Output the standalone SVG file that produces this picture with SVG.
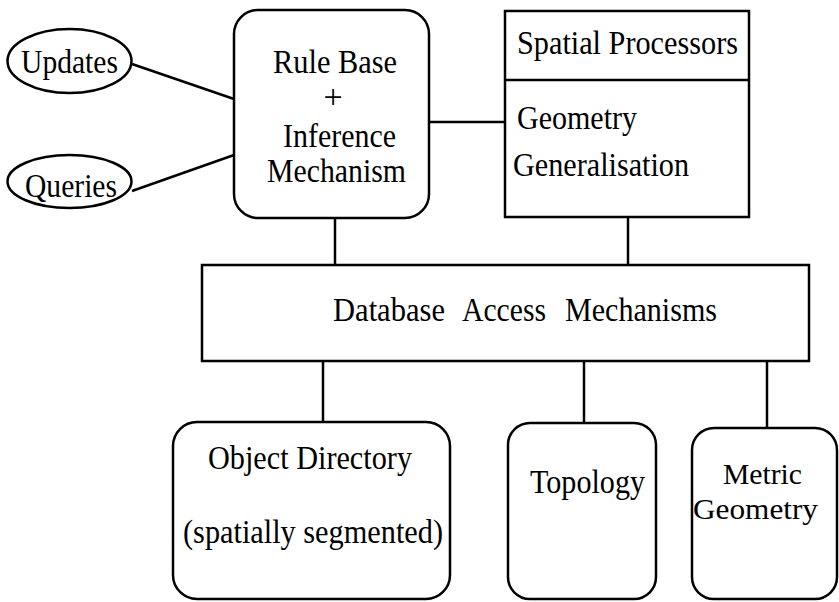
<svg xmlns="http://www.w3.org/2000/svg" width="839" height="602" viewBox="0 0 839 602">
<style>
.s{fill:#fff;stroke:#000;stroke-width:2.5}
.t{font-family:"Liberation Serif","Times New Roman",serif;font-size:34px;fill:#000}
.m{font-size:30px}
.c{stroke:#000;stroke-width:2.5;fill:none}
</style>
<rect width="839" height="602" fill="#fff"/>
<g id="connectors">
<line class="c" x1="132" y1="64" x2="234" y2="99"/>
<line class="c" x1="132" y1="191" x2="234" y2="155"/>
<line class="c" x1="429" y1="122" x2="505" y2="122"/>
<line class="c" x1="335" y1="218" x2="335" y2="265"/>
<line class="c" x1="628" y1="217" x2="628" y2="265"/>
<line class="c" x1="323" y1="361" x2="323" y2="422"/>
<line class="c" x1="584" y1="361" x2="584" y2="423"/>
<line class="c" x1="767" y1="361" x2="767" y2="428"/>
</g>
<g id="updates">
<ellipse class="s" cx="69.5" cy="61" rx="62" ry="32"/>
<text class="t" x="21" y="73" textLength="97" lengthAdjust="spacingAndGlyphs">Updates</text>
</g>
<g id="queries">
<ellipse class="s" cx="69.5" cy="181.5" rx="62" ry="26.5"/>
<text class="t" x="25" y="197" textLength="92" lengthAdjust="spacingAndGlyphs">Queries</text>
</g>
<g id="rulebase">
<rect class="s" x="234" y="10" width="195" height="208" rx="24"/>
<text class="t" x="273" y="73" textLength="124" lengthAdjust="spacingAndGlyphs">Rule Base</text>
<text class="t" x="333" y="108" text-anchor="middle">+</text>
<text class="t" x="283" y="147" textLength="113" lengthAdjust="spacingAndGlyphs">Inference</text>
<text class="t" x="267" y="182" textLength="139" lengthAdjust="spacingAndGlyphs">Mechanism</text>
</g>
<g id="spatial">
<rect class="s" x="505" y="11" width="244" height="206"/>
<line class="c" x1="505" y1="80" x2="749" y2="80"/>
<text class="t" x="517" y="54" textLength="221" lengthAdjust="spacingAndGlyphs">Spatial Processors</text>
<text class="t" x="517" y="129" textLength="120" lengthAdjust="spacingAndGlyphs">Geometry</text>
<text class="t" x="513" y="176" textLength="176" lengthAdjust="spacingAndGlyphs">Generalisation</text>
</g>
<g id="database">
<rect class="s" x="202" y="265" width="607" height="96"/>
<text class="t" x="333" y="321" textLength="112" lengthAdjust="spacingAndGlyphs">Database</text>
<text class="t" x="462" y="321" textLength="84" lengthAdjust="spacingAndGlyphs">Access</text>
<text class="t" x="565" y="321" textLength="152" lengthAdjust="spacingAndGlyphs">Mechanisms</text>
</g>
<g id="objectdir">
<rect class="s" x="173" y="422" width="277" height="177" rx="24"/>
<text class="t" x="208" y="469" textLength="204" lengthAdjust="spacingAndGlyphs">Object Directory</text>
<text class="t" x="183" y="543" textLength="260" lengthAdjust="spacingAndGlyphs">(spatially segmented)</text>
</g>
<g id="topology">
<rect class="s" x="508" y="423" width="148" height="176" rx="22"/>
<text class="t" x="530" y="493" textLength="115" lengthAdjust="spacingAndGlyphs">Topology</text>
</g>
<g id="metric">
<rect class="s" x="692" y="428" width="145" height="171" rx="22"/>
<text class="t m" x="723" y="484" textLength="79" lengthAdjust="spacingAndGlyphs">Metric</text>
<text class="t m" x="693" y="519" textLength="125" lengthAdjust="spacingAndGlyphs">Geometry</text>
</g>
</svg>
